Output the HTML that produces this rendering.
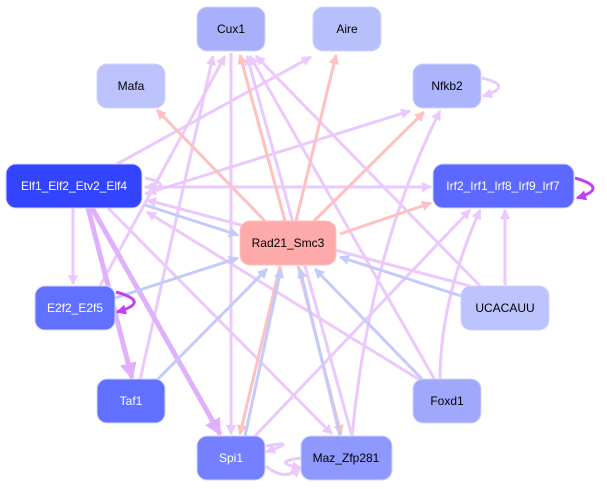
<!DOCTYPE html>
<html><head><meta charset="utf-8"><style>
html,body{margin:0;padding:0;background:#fff;width:607px;height:489px;overflow:hidden}
svg text{font-family:"Liberation Sans",sans-serif;font-size:12px;text-anchor:middle;dominant-baseline:central}
</style></head><body>
<svg width="607" height="489" viewBox="0 0 607 489" xmlns="http://www.w3.org/2000/svg">
<defs>
<marker id="v" markerWidth="3.4" markerHeight="3.4" refX="3" refY="1.7" orient="auto" markerUnits="strokeWidth"><path d="M0,0L3.4,1.7L0,3.4z" fill="#ebc9fc"/></marker>
<marker id="vd" markerWidth="3.4" markerHeight="3.4" refX="3" refY="1.7" orient="auto" markerUnits="strokeWidth"><path d="M0,0L3.4,1.7L0,3.4z" fill="#e0b0fc"/></marker>
<marker id="p" markerWidth="3.4" markerHeight="3.4" refX="3" refY="1.7" orient="auto" markerUnits="strokeWidth"><path d="M0,0L3.4,1.7L0,3.4z" fill="#ffc0c0"/></marker>
<marker id="b" markerWidth="3.4" markerHeight="3.4" refX="3" refY="1.7" orient="auto" markerUnits="strokeWidth"><path d="M0,0L3.4,1.7L0,3.4z" fill="#c4cafc"/></marker>
<marker id="m" markerWidth="3.4" markerHeight="3.4" refX="3" refY="1.7" orient="auto" markerUnits="strokeWidth"><path d="M0,0L3.4,1.7L0,3.4z" fill="#c040f4"/></marker>
</defs>
<g fill="none" stroke-width="3">
<g stroke="#ebc9fc" marker-end="url(#v)">
<path d="M117,164 L311,57"/>
<path d="M145,194 L410,111"/>
<path d="M145,187 L431,187"/>
<path d="M431,187 L145,187"/>
<path d="M73,208 L73,284"/>
<path d="M108,208 L332,434"/>
<path d="M100,286 L225,56"/>
<path d="M140,380 L213,56"/>
<path d="M231,53 L231,434"/>
<path d="M435,380 L250,56"/>
<path d="M480,286 L256,56"/>
<path d="M352,436 L247,56"/>
<path d="M420,380 L147,212"/>
<path d="M470,286 L147,200"/>
<path d="M255,436 L470,210"/>
<path d="M505,285 L505,210"/>
<path d="M352,436 Q370,250 440,111"/>
<path d="M440,380 Q440,300 480,210"/>
<path d="M145,178 Q175,184 147,193"/>
<path d="M266,446 Q300,440 266,452"/>
<path d="M301,458 Q270,462 301,468"/>
<path d="M266,466 Q285,482 300,468"/>
<path d="M482,78 Q515,86 483,96"/>
</g>
<g stroke="#e0b0fc" marker-end="url(#vd)">
<path d="M88,208 L132,378" stroke-width="5"/>
<path d="M92,208 L220,434" stroke-width="5"/>
</g>
<g stroke="#ffc0c0" marker-end="url(#p)">
<path d="M265,221 L157,110"/>
<path d="M285,221 L240,55"/>
<path d="M296,221 L336,55"/>
<path d="M314,221 L424,112"/>
<path d="M340,234 L431,203"/>
<path d="M280,266 L240,434"/>
<path d="M298,266 L341,434"/>
</g>
<g stroke="#c4cafc" marker-end="url(#b)">
<path d="M145,205 L238,235"/>
<path d="M115,298 L238,258"/>
<path d="M157,380 L267,269"/>
<path d="M245,436 L281,269"/>
<path d="M340,436 L300,269"/>
<path d="M425,382 L315,269"/>
<path d="M461,296 L340,257"/>
</g>
<g stroke="#c040f4" marker-end="url(#m)">
<path d="M575,178 Q610,188 577,198"/>
<path d="M116,292 Q152,302 117,312"/>
</g>
</g>
<g stroke="#d0d4fc" stroke-width="1">
<rect x="197" y="7" width="68" height="44" rx="10" fill="#a8b0fc"/>
<rect x="313" y="7" width="68" height="44" rx="10" fill="#b8c0fc"/>
<rect x="97" y="64" width="68" height="44" rx="10" fill="#bcc2fc"/>
<rect x="413" y="64" width="68" height="44" rx="10" fill="#acb4fc"/>
<rect x="6" y="164" width="136" height="44" rx="10" fill="#3344ff"/>
<rect x="433" y="164" width="141" height="44" rx="10" fill="#5c68ff"/>
<rect x="240" y="221" width="96" height="44" rx="10" fill="#ffaaaa" stroke="#ffc0c0"/>
<rect x="35" y="286" width="80" height="44" rx="10" fill="#6270ff"/>
<rect x="461" y="286" width="88" height="44" rx="10" fill="#bcc2fc"/>
<rect x="97" y="379" width="68" height="44" rx="10" fill="#6270ff"/>
<rect x="413" y="379" width="68" height="44" rx="10" fill="#a0a8fc"/>
<rect x="197" y="436" width="68" height="44" rx="10" fill="#7480ff"/>
<rect x="301" y="436" width="91" height="44" rx="10" fill="#8e98fd"/>
</g>
<g fill="#000">
<text x="231" y="29">Cux1</text>
<text x="347" y="29">Aire</text>
<text x="131" y="86">Mafa</text>
<text x="447" y="86">Nfkb2</text>
<text x="288" y="243">Rad21_Smc3</text>
<text x="505" y="308">UCACAUU</text>
<text x="447" y="401">Foxd1</text>
<text x="346" y="458">Maz_Zfp281</text>
</g>
<g fill="#fff">
<text x="74" y="186">Elf1_Elf2_Etv2_Elf4</text>
<text x="503" y="186">Irf2_Irf1_Irf8_Irf9_Irf7</text>
<text x="75" y="308">E2f2_E2f5</text>
<text x="131" y="401">Taf1</text>
<text x="231" y="458">Spi1</text>
</g>
</svg>
</body></html>
